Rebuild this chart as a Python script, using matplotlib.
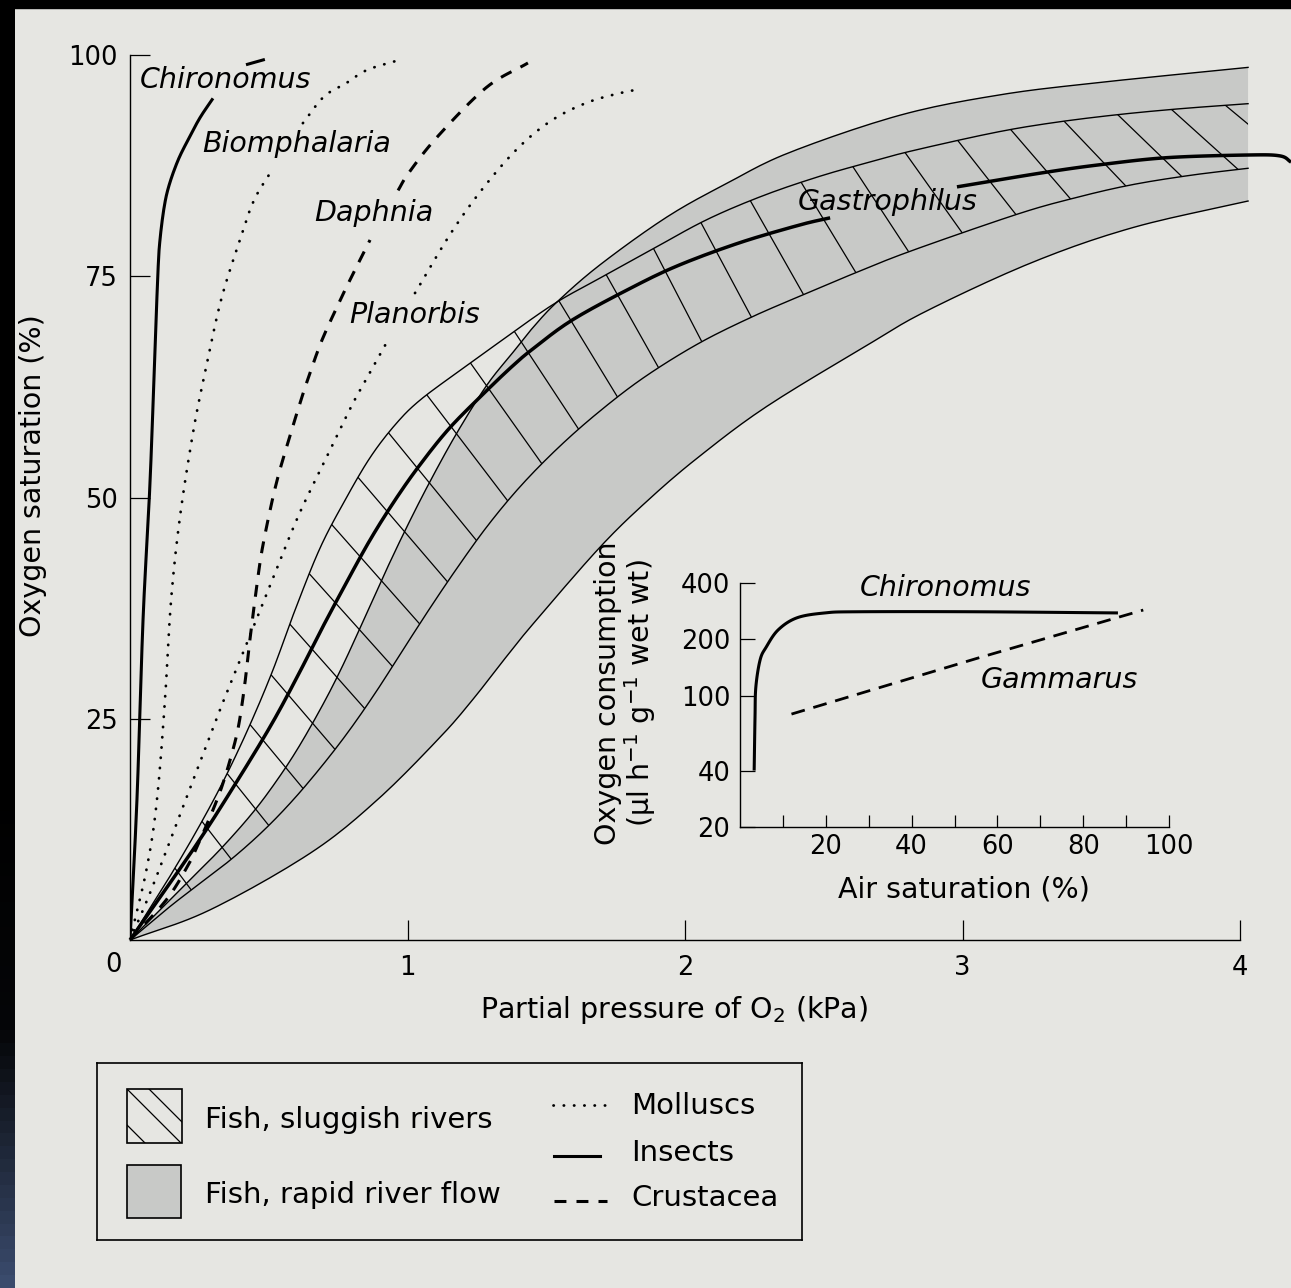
import numpy as np
import matplotlib
matplotlib.use('Agg')
import matplotlib.pyplot as plt
from matplotlib.patches import Rectangle, Polygon
from matplotlib.collections import LineCollection
from matplotlib.colors import LinearSegmentedColormap
from matplotlib.ticker import NullLocator

plt.rcParams['font.family'] = 'DejaVu Sans'
plt.rcParams['mathtext.fontset'] = 'dejavusans'

paper = '#e6e6e2'
grey = '#c8c9c7'

## main panel: PO2 (kPa) -> O2 saturation (%)
# nan = break where a label sits on top of the curve
chiro_x = [0, 0.025, 0.047, 0.072, 0.090, 0.101, 0.108, 0.123, 0.141, 0.173, 0.209, 0.252, 0.299,
           np.nan, 0.418, 0.486]
chiro_y = [0, 15.8, 36.2, 51.6, 66.7, 75.7, 79.1, 82.8, 85.3, 88.1, 90.4, 92.9, 95.1,
           np.nan, 98.9, 99.5]

biom_x = [0, 0.061, 0.097, 0.126, 0.148, 0.180, 0.227, 0.270, 0.328, 0.396, 0.447, 0.512,
          np.nan, 0.623, 0.699, 0.778, 0.854, 0.966]
biom_y = [0, 8.2, 15.8, 27.1, 38.4, 47.8, 57.3, 64.1, 72.3, 79.1, 83.6, 87.0,
          np.nan, 92.3, 95.3, 96.8, 98.3, 99.4]

daph_x = [0, 0.130, 0.205, 0.241, 0.299, 0.335, 0.371, 0.393, 0.414, 0.432, 0.458, 0.476, 0.505,
          0.533, 0.569, 0.616, 0.649, 0.692, 0.753, 0.793, 0.865,
          np.nan, 0.966, 1.005, 1.106, 1.283, 1.434]
daph_y = [0, 4.5, 8.2, 10.5, 14.7, 17.7, 21.5, 24.5, 29.0, 33.9, 40.3, 44.1, 48.6,
          52.3, 56.2, 61.0, 64.1, 67.8, 72.0, 74.6, 79.1,
          np.nan, 84.7, 86.7, 90.7, 96.3, 99.1]

plan_x = [0, 0.072, 0.177, 0.245, 0.324, 0.404, 0.508, 0.605, 0.703, 0.796, 0.843, 0.930,
          np.nan, 1.027, 1.157, 1.276, 1.402, 1.524, 1.654, 1.780, 1.813]
plan_y = [0, 5.3, 13.9, 19.5, 26.0, 32.2, 40.3, 47.8, 54.2, 60.2, 62.9, 67.8,
          np.nan, 73.1, 79.9, 85.1, 89.6, 92.7, 94.7, 95.8, 96.0]

gastro_x = [0, 0.227, 0.371, 0.505, 0.602, 0.685, 0.775, 0.865, 0.955, 1.045, 1.153, 1.286, 1.380,
            1.452, 1.596, 1.813, 1.982, 2.198, 2.414, 2.523,
            np.nan, 2.980, 3.290, 3.495, 3.737, 4.029, 4.144, 4.184]
gastro_y = [0, 10.2, 17.2, 24.1, 29.7, 34.8, 40.1, 45.2, 49.7, 53.7, 57.9, 62.1, 64.9,
            66.8, 70.1, 73.8, 76.3, 78.8, 80.8, 81.6,
            np.nan, 85.1, 86.7, 87.6, 88.4, 88.7, 88.6, 87.9]

# fish, sluggish rivers (hatched band): upper and lower edge
slug_hi_x = [0, 0.144, 0.252, 0.342, 0.432, 0.515, 0.595, 0.685, 0.775, 0.865, 0.955, 1.045, 1.200,
             1.333, 1.524, 1.694, 1.885, 2.079, 2.281, 2.486, 2.677, 2.822, 3.110, 3.315, 3.542, 3.773, 4.029]
slug_hi_y = [0, 7.2, 13.0, 18.3, 24.3, 30.5, 37.3, 44.3, 49.7, 54.5, 58.2, 61.0, 64.6,
             67.6, 71.8, 74.8, 78.1, 81.4, 84.1, 86.3, 88.0, 89.2, 91.2, 92.3, 93.2, 93.9, 94.5]
slug_lo_x = [0, 0.133, 0.227, 0.360, 0.479, 0.587, 0.695, 0.793, 0.890, 0.984, 1.081, 1.178, 1.286,
             1.405, 1.539, 1.683, 1.849, 2.043, 2.234, 2.425, 2.623, 2.818, 3.196, 3.398, 3.604, 3.820, 4.029]
slug_lo_y = [0, 3.5, 5.8, 9.0, 12.3, 15.8, 19.8, 23.8, 28.2, 32.8, 37.5, 42.0, 46.7,
             51.2, 55.5, 59.5, 63.5, 67.3, 70.3, 72.9, 75.5, 77.9, 82.0, 83.8, 85.3, 86.4, 87.2]

# fish, rapid river flow (grey band): upper and lower edge
rapid_hi_x = [0, 0.216, 0.324, 0.432, 0.515, 0.602, 0.695, 0.768, 0.847, 0.919, 0.998, 1.081, 1.178,
              1.286, 1.380, 1.452, 1.539, 1.694, 1.935, 2.151, 2.378, 2.775, 3.135, 3.495, 4.029]
rapid_hi_y = [0, 6.8, 10.2, 14.0, 17.4, 21.5, 26.6, 31.1, 36.5, 41.5, 46.7, 51.8, 57.3,
              62.7, 66.4, 69.2, 72.1, 76.3, 81.7, 85.5, 89.0, 93.2, 95.5, 96.9, 98.6]
rapid_lo_x = [0, 0.288, 0.649, 0.890, 1.117, 1.236, 1.351, 1.452, 1.694, 1.874, 2.054, 2.295,
              2.656, 2.872, 3.254, 3.614, 4.029]
rapid_lo_y = [0, 3.4, 9.8, 15.8, 22.9, 27.2, 31.8, 35.7, 44.4, 49.9, 54.7, 60.3,
              67.2, 71.1, 76.6, 80.5, 83.5]

## inset: air saturation (%) -> O2 consumption (ul/h/g wet wt)
ins_chiro_x = [3.3, 3.5, 3.7, 4.7, 6.1, 8.9, 13.3, 19.8, 27.3, 54.8, 88.1]
ins_chiro_y = [40, 77, 112, 156, 182, 225, 261, 277, 281, 281, 277]
gamm_x = [12, 55, 94]
gamm_y = [80, 158, 287]

dotted = dict(color='k', lw=2.0, ls=(0, (0.1, 3.6)), dash_capstyle='round')
dashed = dict(color='k', lw=2.2, ls=(0, (3.9, 3.3)))


def pieces(xs, ys):
    xs = np.asarray(xs, float)
    ys = np.asarray(ys, float)
    ok = ~np.isnan(xs)
    k = np.cumsum(~ok)
    return [(xs[ok & (k == i)], ys[ok & (k == i)]) for i in np.unique(k[ok])]


def smooth(ax, x, y, n=12):
    # catmull-rom through the read points, done in pixel space
    P = ax.transData.transform(np.column_stack([x, y]))
    if len(P) < 3:
        return np.asarray(x), np.asarray(y)
    P = np.vstack([2 * P[0] - P[1], P, 2 * P[-1] - P[-2]])
    t = np.linspace(0, 1, n, endpoint=False)[:, None]
    out = []
    for i in range(1, len(P) - 2):
        p0, p1, p2, p3 = P[i - 1], P[i], P[i + 1], P[i + 2]
        out.append(0.5 * (2 * p1 + (p2 - p0) * t + (2 * p0 - 5 * p1 + 4 * p2 - p3) * t ** 2
                          + (3 * p1 - p0 - 3 * p2 + p3) * t ** 3))
    out.append(P[-2][None, :])
    Q = ax.transData.inverted().transform(np.vstack(out))
    return Q[:, 0], Q[:, 1]


def curve(ax, xs, ys, **kw):
    for x, y in pieces(xs, ys):
        sx, sy = smooth(ax, x, y)
        ax.plot(sx, sy, **kw)


def along(P, f, total=None):
    d = np.r_[0, np.cumsum(np.hypot(*np.diff(P, axis=0).T))]
    d = d / (total if total else d[-1])
    return np.column_stack([np.interp(f, d, P[:, 0]), np.interp(f, d, P[:, 1])])


fig = plt.figure(figsize=(12.91, 12.88), dpi=100, facecolor=paper)

# scanner edge: black strip on top, dark blue-black strip on the left
fig.patches.append(Rectangle((0, 1 - 8 / 1288), 1, 8 / 1288, transform=fig.transFigure,
                             color='black', zorder=10))
edge = fig.add_axes([0, 0, 15 / 1291, 1])
edge.imshow(np.r_[np.zeros(60), np.linspace(0, 1, 40)][:, None], aspect='auto',
            cmap=LinearSegmentedColormap.from_list('e', ['#000000', '#050608', '#3a4b6c']))
edge.axis('off')

ax = fig.add_axes([130 / 1291, 1 - 940 / 1288, 1161 / 1291, 885 / 1288])
ax.set_xlim(0, 1161 / 277.5)
ax.set_ylim(0, 100)
ax.set_facecolor('none')
for s in ['top', 'right']:
    ax.spines[s].set_visible(False)
for s in ['left', 'bottom']:
    ax.spines[s].set_linewidth(1.0)
ax.spines['bottom'].set_bounds(0, 4)
ax.set_xticks([1, 2, 3, 4])
ax.set_xticklabels(['1', '2', '3', '4'])
ax.set_yticks([25, 50, 75, 100])
ax.set_yticklabels(['25', '50', '75', '100'])
ax.tick_params(direction='in', length=14.5, width=0.9, labelsize=18.5)
ax.tick_params(axis='x', pad=11)
ax.tick_params(axis='y', pad=9)
ax.text(-0.061, -2.8, '0', ha='center', va='center', fontsize=18.5, clip_on=False)
ax.set_xlabel('Partial pressure of O$_2$ (kPa)', fontsize=20.5, va='center')
ax.xaxis.set_label_coords(0.469, -0.079)
ax.set_ylabel('Oxygen saturation (%)', fontsize=20.5, va='center')
ax.yaxis.set_label_coords(-0.0835, 0.525)

# grey band
hx, hy = smooth(ax, rapid_hi_x, rapid_hi_y)
lx, ly = smooth(ax, rapid_lo_x, rapid_lo_y)
ax.fill(np.r_[hx, lx[::-1]], np.r_[hy, ly[::-1]], color=grey, lw=0, zorder=1)
ax.plot(hx, hy, color='k', lw=1.0, zorder=2)
ax.plot(lx, ly, color='k', lw=1.0, zorder=2)

# hatched band: edges plus cross strokes running from edge to edge
ux, uy = smooth(ax, slug_hi_x, slug_hi_y)
vx, vy = smooth(ax, slug_lo_x, slug_lo_y)
ax.plot(ux, uy, color='k', lw=1.0, zorder=3)
ax.plot(vx, vy, color='k', lw=1.0, zorder=3)
band = Polygon(np.column_stack([np.r_[ux, vx[::-1]], np.r_[uy, vy[::-1]]]), closed=True,
               fill=False, lw=0)
ax.add_patch(band)
PA = ax.transData.transform(np.column_stack([ux, uy]))
PC = ax.transData.transform(np.column_stack([vx, vy]))
lenC = np.hypot(*np.diff(PC, axis=0).T).sum()
tail = PC[-1] - PC[-2]
PC = np.vstack([PC, PC[-1] + tail / np.hypot(*tail) * 200])
f = np.linspace(0.056, 0.985, 27)
g = f + 0.05 * np.clip((f - 0.6) / 0.4, 0, 1)
segs = np.stack([along(PA, f), along(PC, g, lenC)], axis=1)
segs = ax.transData.inverted().transform(segs.reshape(-1, 2)).reshape(-1, 2, 2)
hatch = LineCollection(segs, colors='k', linewidths=0.9, zorder=3)
ax.add_collection(hatch)
hatch.set_clip_path(band)

curve(ax, chiro_x, chiro_y, color='k', lw=2.2, zorder=5, solid_capstyle='butt')
curve(ax, gastro_x, gastro_y, color='k', lw=2.5, zorder=5, solid_capstyle='butt', clip_on=False)
curve(ax, biom_x, biom_y, zorder=5, **dotted)
curve(ax, plan_x, plan_y, zorder=5, **dotted)
curve(ax, daph_x, daph_y, zorder=5, **dashed)

lab = dict(fontsize=20.5, style='italic', ha='left', va='center')
ax.text(0.036, 97.2, 'Chironomus', **lab)
ax.text(0.259, 89.9, 'Biomphalaria', **lab)
ax.text(0.663, 82.1, 'Daphnia', **lab)
ax.text(0.789, 70.6, 'Planorbis', **lab)
ax.text(2.407, 83.4, 'Gastrophilus', **lab)

# inset
ax2 = fig.add_axes([740 / 1291, 1 - 827 / 1288, 429 / 1291, 244 / 1288])
ax2.set_facecolor('none')
ax2.set_yscale('log')
ax2.set_xlim(0, 100)
ax2.set_ylim(20, 400)
for s in ['top', 'right']:
    ax2.spines[s].set_visible(False)
for s in ['left', 'bottom']:
    ax2.spines[s].set_linewidth(1.0)
ax2.set_yticks([20, 40, 100, 200, 400])
ax2.set_yticklabels(['20', '40', '100', '200', '400'])
ax2.yaxis.set_minor_locator(NullLocator())
ax2.set_xticks(list(range(10, 101, 10)))
ax2.set_xticklabels(['', '20', '', '40', '', '60', '', '80', '', '100'])
ax2.tick_params(direction='in', width=0.9, labelsize=18.5)
ax2.tick_params(axis='x', length=9, pad=5)
ax2.tick_params(axis='y', length=11, pad=7)
ax2.set_xlabel('Air saturation (%)', fontsize=20.5, va='center')
ax2.xaxis.set_label_coords(0.522, -0.258)
ax2.set_ylabel('Oxygen consumption\n(µl h$^{-1}$ g$^{-1}$ wet wt)', fontsize=20.5,
               va='center', linespacing=1.0)
ax2.yaxis.set_label_coords(-0.266, 0.549)

curve(ax2, ins_chiro_x, ins_chiro_y, color='k', lw=2.2, solid_capstyle='butt')
ax2.plot(gamm_x, gamm_y, color='k', lw=2.0, ls=(0, (5, 3.2)))
ax2.text(47.8, 375, 'Chironomus', fontsize=20.5, style='italic', ha='center', va='center')
ax2.text(74.4, 121, 'Gammarus', fontsize=20.5, style='italic', ha='center', va='center')

# legend box, drawn in its own pixel-like frame
lg = fig.add_axes([97 / 1291, 1 - 1240 / 1288, 705 / 1291, 177 / 1288])
lg.set_xlim(97, 802)
lg.set_ylim(1240, 1063)
lg.set_xticks([])
lg.set_yticks([])
lg.set_facecolor('none')
for s in lg.spines.values():
    s.set_linewidth(1.2)

sw = Rectangle((127, 1089), 55, 54, fill=False, ec='k', lw=1.2)
lg.add_patch(sw)
for c in (-22, 0, 36):
    ln, = lg.plot([100, 220], [100 + 962 + c, 220 + 962 + c], color='k', lw=0.9)
    ln.set_clip_path(sw)
lg.add_patch(Rectangle((127, 1165), 54, 53, fc=grey, ec='k', lw=1.2))
lg.text(205, 1120, 'Fish, sluggish rivers', fontsize=21, va='center')
lg.text(205, 1195, 'Fish, rapid river flow', fontsize=21, va='center')
lg.plot([553, 607], [1105, 1105], **dotted)
lg.plot([554, 600], [1156, 1156], color='k', lw=2.2)
lg.plot([554, 607], [1201, 1201], **dashed)
lg.text(631, 1106, 'Molluscs', fontsize=21, va='center')
lg.text(631, 1153, 'Insects', fontsize=21, va='center')
lg.text(631, 1198, 'Crustacea', fontsize=21, va='center')

fig.savefig('out.png', dpi=100, facecolor=paper)
